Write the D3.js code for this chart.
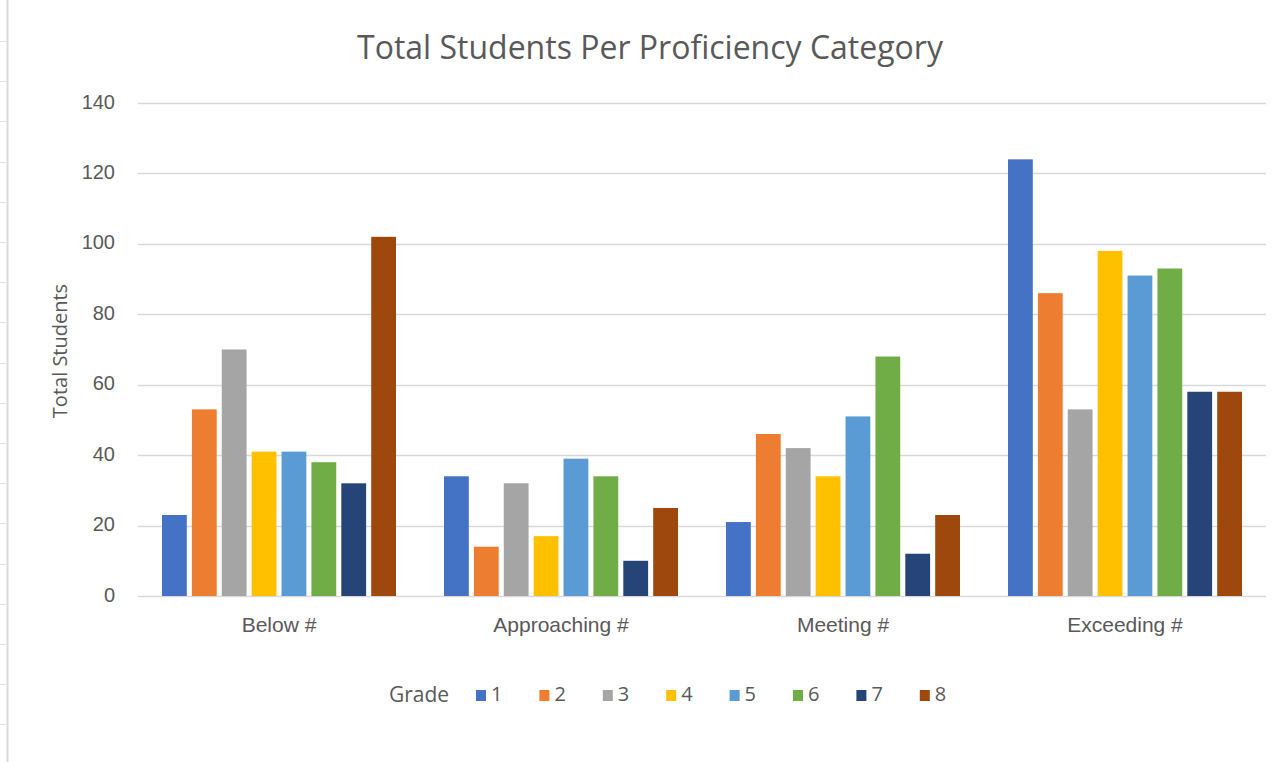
<!DOCTYPE html>
<html>
<head>
<meta charset="utf-8">
<script src="https://cdn.jsdelivr.net/npm/d3@7"></script>
<style>
  body { margin: 0; background: #fff; }
  svg { display: block; font-family: "Open Sans", sans-serif; }
</style>
</head>
<body>
<svg width="1279" height="762"></svg>
<script>
// chart data
var categories = ["Below #", "Approaching #", "Meeting #", "Exceeding #"];
var grades = ["1", "2", "3", "4", "5", "6", "7", "8"];
var gradeColors = ["#4472C4", "#ED7D31", "#A5A5A5", "#FFC000", "#5B9BD5", "#70AD47", "#264478", "#9E480E"];
// one array per category, values for grade 1..8
var belowVals = [23, 53, 70, 41, 41, 38, 32, 102];
var approachingVals = [34, 14, 32, 17, 39, 34, 10, 25];
var meetingVals = [21, 46, 42, 34, 51, 68, 12, 23];
var exceedingVals = [124, 86, 53, 98, 91, 93, 58, 58];
var yTicks = [0, 20, 40, 60, 80, 100, 120, 140];

var allVals = [belowVals, approachingVals, meetingVals, exceedingVals];
var rows = categories.map(function(c, i) {
    return { category: c, values: allVals[i] };
});

var svg = d3.select("svg"),
    margin = {top: 103, right: 13, bottom: 166, left: 138},
    width = 1279 - margin.left - margin.right,
    height = 762 - margin.top - margin.bottom;

var textColor = "#595959";

// spreadsheet edge at the left
svg.append("line")
    .attr("x1", 7.5).attr("x2", 7.5)
    .attr("y1", 0).attr("y2", 762)
    .attr("stroke", "#dadada").attr("stroke-width", 2);
svg.selectAll(".edgeTick")
    .data(d3.range(41, 762, 40.2))
    .enter().append("line")
    .attr("class", "edgeTick")
    .attr("x1", 0).attr("x2", 6)
    .attr("y1", function(d) { return Math.round(d) + 0.5; })
    .attr("y2", function(d) { return Math.round(d) + 0.5; })
    .attr("stroke", "#e0e0e0");

var g = svg.append("g").attr("transform", "translate(" + margin.left + "," + margin.top + ")");

var x0 = d3.scaleBand()
    .domain(categories)
    .range([0, width]);

var x1 = d3.scaleBand()
    .domain(grades)
    .range([24, x0.bandwidth() - 24])
    .paddingInner(0.17);

var y = d3.scaleLinear()
    .domain([0, 140])
    .range([height, 0]);

var color = d3.scaleOrdinal()
    .domain(grades)
    .range(gradeColors);

// gridlines
g.selectAll(".grid")
    .data(yTicks)
    .enter().append("line")
    .attr("class", "grid")
    .attr("x1", 0).attr("x2", width)
    .attr("y1", function(d) { return Math.round(y(d)) + 0.5; })
    .attr("y2", function(d) { return Math.round(y(d)) + 0.5; })
    .attr("stroke", "#d9d9d9")
    .attr("stroke-width", 1.3);

// y axis labels
var yAxis = d3.axisLeft(y).tickValues(yTicks).tickSize(0).tickPadding(23);
var yG = g.append("g").call(yAxis);
yG.select(".domain").remove();
yG.selectAll("text")
    .attr("fill", textColor)
    .attr("dy", "0.25em")
    .style("font-size", "20px");

// bars
var groups = g.selectAll(".cat")
    .data(rows)
    .enter().append("g")
    .attr("class", "cat")
    .attr("transform", function(d) { return "translate(" + x0(d.category) + ",0)"; });

groups.selectAll("rect")
    .data(function(d) {
        return d.values.map(function(v, i) { return {grade: grades[i], value: v}; });
    })
    .enter().append("rect")
    .attr("x", function(d) { return x1(d.grade); })
    .attr("width", x1.bandwidth())
    .attr("y", function(d) { return y(d.value); })
    .attr("height", function(d) { return height - y(d.value); })
    .attr("fill", function(d) { return color(d.grade); });

// x axis labels
var xAxis = d3.axisBottom(x0).tickSize(0).tickPadding(21);
var xG = g.append("g")
    .attr("transform", "translate(0," + height + ")")
    .call(xAxis);
xG.select(".domain").remove();
xG.selectAll("text")
    .attr("fill", textColor)
    .style("font-size", "21px");

// title
svg.append("text")
    .attr("x", 650)
    .attr("y", 59)
    .attr("text-anchor", "middle")
    .attr("fill", textColor)
    .style("font-size", "32px")
    .text("Total Students Per Proficiency Category");

// y axis title
svg.append("text")
    .attr("transform", "translate(67,351) rotate(-90)")
    .attr("text-anchor", "middle")
    .attr("fill", textColor)
    .style("font-size", "20px")
    .text("Total Students");

// legend
var legend = svg.append("g").attr("transform", "translate(0,702)");
legend.append("text")
    .attr("x", 389)
    .attr("y", 0)
    .attr("fill", textColor)
    .style("font-size", "21px")
    .text("Grade");

var item = legend.selectAll(".item")
    .data(grades)
    .enter().append("g")
    .attr("class", "item")
    .attr("transform", function(d, i) { return "translate(" + (476 + i * 63.4) + ",0)"; });

item.append("rect")
    .attr("x", 0).attr("y", -12)
    .attr("width", 10).attr("height", 11)
    .attr("fill", function(d) { return color(d); });

item.append("text")
    .attr("x", 15)
    .attr("y", -1)
    .attr("fill", textColor)
    .style("font-size", "20px")
    .text(function(d) { return d; });
</script>
</body>
</html>
